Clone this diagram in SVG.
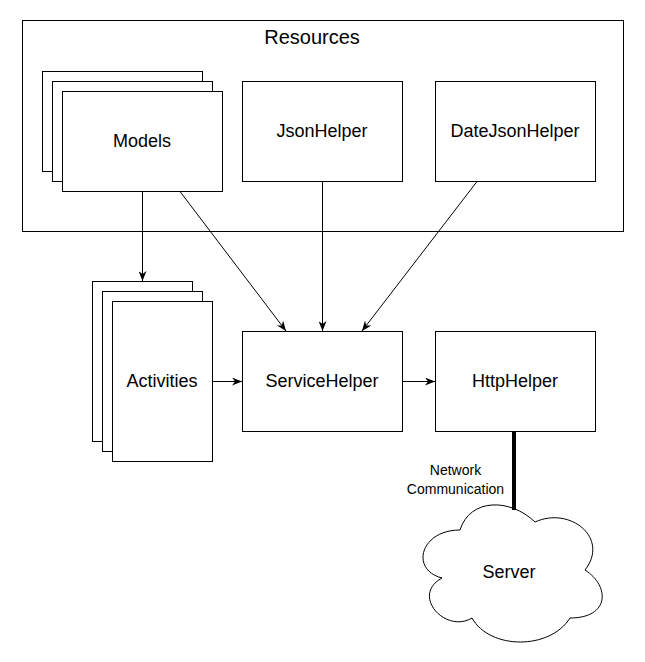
<svg xmlns="http://www.w3.org/2000/svg" width="645" height="662" viewBox="0 0 645 662">
<defs>
<style>
.box{fill:#fff;stroke:#000;stroke-width:1}
.lbl{font-family:"Liberation Sans",Arial,sans-serif;font-size:18px;fill:#000;text-anchor:middle;dominant-baseline:central}
.edge{fill:none;stroke:#000;stroke-width:1}
</style>
<marker id="arr" viewBox="0 0 10 8" refX="10" refY="4" markerWidth="10" markerHeight="8" markerUnits="userSpaceOnUse" orient="auto">
<path d="M0,0 L10,4 L0,8 L3,4 z" fill="#000"/>
</marker>
</defs>
<rect width="645" height="662" fill="#fff"/>
<g id="resources">
<rect class="box" x="22.5" y="20.5" width="601" height="211"/>
<text class="lbl" x="312" y="37" style="font-size:20px">Resources</text>
</g>
<g id="models">
<rect class="box" x="42.5" y="71.5" width="160" height="100"/>
<rect class="box" x="52.5" y="81.5" width="160" height="100"/>
<rect class="box" x="62.5" y="91.5" width="160" height="100"/>
<text class="lbl" x="142" y="141">Models</text>
</g>
<g id="jsonhelper">
<rect class="box" x="242.5" y="81.5" width="160" height="100"/>
<text class="lbl" x="322" y="131">JsonHelper</text>
</g>
<g id="datejsonhelper">
<rect class="box" x="435.5" y="81.5" width="160" height="100"/>
<text class="lbl" x="515" y="131">DateJsonHelper</text>
</g>
<g id="activities">
<rect class="box" x="92.5" y="281.5" width="100" height="160"/>
<rect class="box" x="102.5" y="291.5" width="100" height="160"/>
<rect class="box" x="112.5" y="301.5" width="100" height="160"/>
<text class="lbl" x="162" y="381">Activities</text>
</g>
<g id="servicehelper">
<rect class="box" x="242.5" y="331.5" width="160" height="100"/>
<text class="lbl" x="322" y="381">ServiceHelper</text>
</g>
<g id="httphelper">
<rect class="box" x="435.5" y="331.5" width="160" height="100"/>
<text class="lbl" x="515" y="381">HttpHelper</text>
</g>
<g id="server">
<path class="box" d="M460,530 C420,530 410,570 442,578 C410,595.6 446,634 472,618 C490,650 550,650 570,618 C610,618 610,586 585,570 C610,538 570,506 535,522 C510,498 470,498 460,530 Z"/>
<text class="lbl" x="509" y="572">Server</text>
</g>
<g id="connectors">
<path class="edge" d="M142.5,191.5 L142.5,281" marker-end="url(#arr)"/>
<path class="edge" d="M180,191.5 L286,331" marker-end="url(#arr)"/>
<path class="edge" d="M322.5,181.5 L322.5,331" marker-end="url(#arr)"/>
<path class="edge" d="M477,181.5 L362,331" marker-end="url(#arr)"/>
<path class="edge" d="M212.5,381.5 L242,381.5" marker-end="url(#arr)"/>
<path class="edge" d="M402.5,381.5 L435,381.5" marker-end="url(#arr)"/>
<path d="M514,431.5 L514,510" stroke="#000" stroke-width="4" fill="none"/>
<text class="lbl" x="455.5" y="470" style="font-size:14px">Network</text>
<text class="lbl" x="455.5" y="489" style="font-size:14px">Communication</text>
</g>
</svg>
